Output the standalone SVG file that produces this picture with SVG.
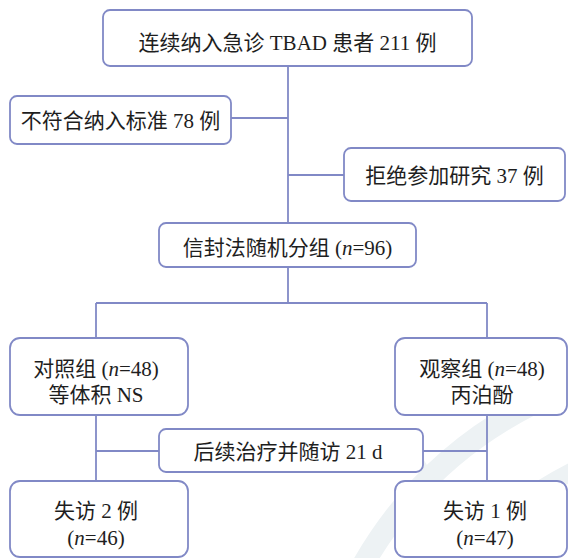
<svg xmlns="http://www.w3.org/2000/svg" width="568" height="558" viewBox="0 0 568 558">
<style>
.box{fill:#ffffff;stroke:#8189c6;stroke-width:1.8}
.ln{fill:none;stroke:#8189c6;stroke-width:1.8}
.t{font-family:"Liberation Serif","Noto Sans CJK SC",serif;font-size:21px;fill:#1e1e1e;text-anchor:middle}
.wm{fill:none;stroke:#edf2f4;stroke-linecap:round}
</style>
<rect width="568" height="558" fill="#ffffff"/>
<g id="watermark">
<path class="wm" stroke-width="22" d="M360,570 C410,480 485,420 575,385"/>
<path class="wm" stroke-width="18" d="M450,570 C490,520 535,490 575,470"/>
<path class="wm" stroke-width="10" d="M415,455 L470,545"/>
</g>
<g id="connectors">
<path class="ln" d="M288,66 V223"/>
<path class="ln" d="M231,118 H288"/>
<path class="ln" d="M288,175 H344"/>
<path class="ln" d="M288,267 V303"/>
<path class="ln" d="M96,303 H487"/>
<path class="ln" d="M96,303 V338"/>
<path class="ln" d="M487,303 V338"/>
<path class="ln" d="M96,415 V481"/>
<path class="ln" d="M487,415 V481"/>
<path class="ln" d="M96,451 H159"/>
<path class="ln" d="M423,451 H487"/>
</g>
<g id="n1">
<rect class="box" x="103" y="10" width="369" height="56" rx="7"/>
<text class="t" x="287.5" y="50">连续纳入急诊 TBAD 患者 211 例</text>
</g>
<g id="n2">
<rect class="box" x="10" y="96" width="221" height="48" rx="7"/>
<text class="t" x="120.5" y="128">不符合纳入标准 78 例</text>
</g>
<g id="n3">
<rect class="box" x="344" y="148" width="221" height="53" rx="7"/>
<text class="t" x="454.5" y="183">拒绝参加研究 37 例</text>
</g>
<g id="n4">
<rect class="box" x="159" y="223" width="257" height="44" rx="7"/>
<text class="t" x="287.5" y="255">信封法随机分组 (<tspan font-style="italic">n</tspan>=96)</text>
</g>
<g id="n5">
<rect class="box" x="10" y="338" width="178" height="77" rx="10"/>
<text class="t" x="96" y="376">对照组 (<tspan font-style="italic">n</tspan>=48)</text>
<text class="t" x="96" y="402">等体积 NS</text>
</g>
<g id="n6">
<rect class="box" x="395" y="338" width="172" height="77" rx="10"/>
<text class="t" x="482" y="376">观察组 (<tspan font-style="italic">n</tspan>=48)</text>
<text class="t" x="482" y="402">丙泊酚</text>
</g>
<g id="n7">
<rect class="box" x="159" y="429" width="264" height="43" rx="7"/>
<text class="t" x="288" y="459">后续治疗并随访 21 d</text>
</g>
<g id="n8">
<rect class="box" x="10" y="481" width="178" height="76" rx="10"/>
<text class="t" x="96" y="518">失访 2 例</text>
<text class="t" x="96" y="545">(<tspan font-style="italic">n</tspan>=46)</text>
</g>
<g id="n9">
<rect class="box" x="395" y="481" width="172" height="76" rx="10"/>
<text class="t" x="485" y="518">失访 1 例</text>
<text class="t" x="485" y="545">(<tspan font-style="italic">n</tspan>=47)</text>
</g>
</svg>
